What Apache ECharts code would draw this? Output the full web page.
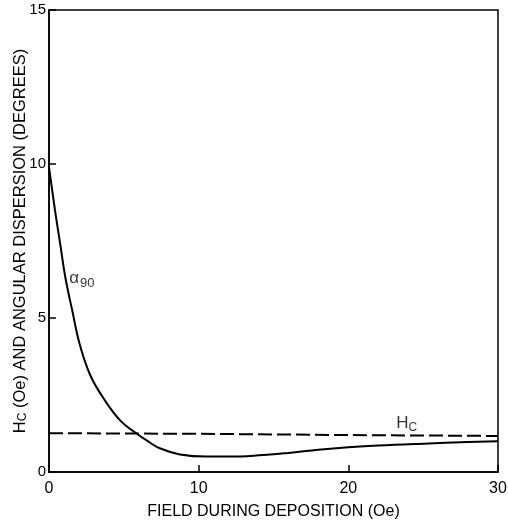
<!DOCTYPE html>
<html>
<head>
<meta charset="utf-8">
<script src="https://cdn.jsdelivr.net/npm/echarts@6/dist/echarts.min.js"></script>
<style>
  html, body { margin: 0; padding: 0; background: #fff; }
  #chart { width: 508px; height: 523px; }
</style>
</head>
<body>
<div id="chart"></div>
<script>
// Field applied during deposition (Oe)
const alphaField = [0, 0.4, 0.75, 1.1, 1.55, 2.05, 2.75, 3.7, 4.8, 5.85, 6.6, 7.4, 8.75, 10.5, 12, 14, 16, 18, 20, 22, 25, 28, 30];
// Angular dispersion alpha90 (degrees)
const alphaValue = [9.9, 8.5, 7.4, 6.3, 5.25, 4.15, 3.15, 2.35, 1.65, 1.25, 1.0, 0.77, 0.57, 0.5, 0.5, 0.54, 0.62, 0.72, 0.8, 0.86, 0.92, 0.97, 1.0];
// Coercive force Hc (Oe)
const hcField = [0, 10, 20, 30];
const hcValue = [1.26, 1.24, 1.2, 1.17];
// Axis ticks
const xTicks = [0, 10, 20, 30];
const yTicks = [0, 5, 10, 15];
// Curve labels placed in data space
const alphaLabelAt = [2.2, 6.3];
const hcLabelAt = [23.9, 1.57];

const FONT = 'Liberation Sans';
const pairs = (xs, ys) => xs.map((x, i) => [x, ys[i]]);

const chart = echarts.init(document.getElementById('chart'), null, { renderer: 'canvas' });
chart.setOption({
  backgroundColor: '#fff',
  animation: false,
  grid: {
    left: 49, right: 10, top: 10, bottom: 51,
    outerBoundsMode: 'none', containLabel: false,
    show: true, borderColor: '#000', borderWidth: 1.5, backgroundColor: 'transparent'
  },
  xAxis: {
    type: 'value',
    min: xTicks[0], max: xTicks[xTicks.length - 1], interval: 10,
    name: 'FIELD DURING DEPOSITION (Oe)',
    nameLocation: 'middle', nameGap: 32, nameMoveOverlap: false,
    nameTextStyle: { fontFamily: FONT, fontSize: 16, color: '#000' },
    axisLine: { show: true, lineStyle: { color: '#000', width: 1.5 } },
    axisTick: { show: true, inside: true, length: 7, lineStyle: { color: '#000', width: 1.5 } },
    axisLabel: { fontFamily: FONT, fontSize: 16, color: '#000', margin: 9 },
    splitLine: { show: false }
  },
  yAxis: {
    type: 'value',
    min: yTicks[0], max: yTicks[yTicks.length - 1], interval: 5,
    name: 'H{sub|C} (Oe) AND ANGULAR DISPERSION (DEGREES)',
    nameLocation: 'middle', nameGap: 20, nameRotate: 90, nameMoveOverlap: false,
    nameTextStyle: {
      fontFamily: FONT, fontSize: 16.5, color: '#000',
      rich: { sub: { fontFamily: FONT, fontSize: 12, color: '#000', verticalAlign: 'bottom', padding: [6, 0, 0, 0] } }
    },
    axisLine: { show: true, lineStyle: { color: '#000', width: 1.5 } },
    axisTick: { show: true, inside: true, length: 7, lineStyle: { color: '#000', width: 1.5 } },
    axisLabel: { fontFamily: FONT, fontSize: 15, color: '#000', margin: 3 },
    splitLine: { show: false }
  },
  series: [
    {
      name: 'alpha90', type: 'line', data: pairs(alphaField, alphaValue),
      smooth: 0.4, symbol: 'none',
      lineStyle: { color: '#000', width: 2 }
    },
    {
      name: 'Hc', type: 'line', data: pairs(hcField, hcValue),
      symbol: 'none',
      lineStyle: { color: '#000', width: 2, type: [14, 5] }
    },
    {
      name: 'labels', type: 'scatter', symbolSize: 0, silent: true,
      data: [
        { value: alphaLabelAt, label: { formatter: '{a|α}{s|90}' } },
        { value: hcLabelAt, label: { formatter: '{a|H}{c|C}' } }
      ],
      label: {
        show: true, position: 'inside', color: '#000',
        rich: {
          a: { fontFamily: FONT, fontSize: 17, color: '#000' },
          s: { fontFamily: FONT, fontSize: 13, color: '#000', padding: [10, 0, 0, 1] },
          c: { fontFamily: FONT, fontSize: 12, color: '#000', padding: [8, 0, 0, 0] }
        }
      }
    }
  ]
});
</script>
</body>
</html>
